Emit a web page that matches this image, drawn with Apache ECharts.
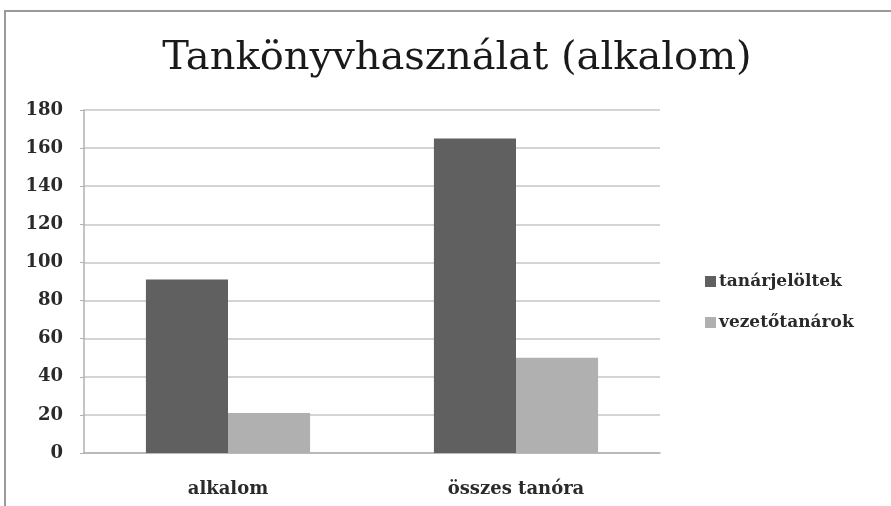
<!DOCTYPE html>
<html><head><meta charset="utf-8">
<script src="https://cdn.jsdelivr.net/npm/echarts@6/dist/echarts.min.js"></script>
<style>html,body{margin:0;padding:0;background:#fff}#c{width:891px;height:506px}</style>
</head><body><div id="c"></div>
<script>
const categories = ['alkalom', 'összes tanóra'];
const seriesNames = ['tanárjelöltek', 'vezetőtanárok'];
const tanarjeloltek = [91, 165];
const vezetotanarok = [21, 50];
const yTicks = {min: 0, max: 180, interval: 20};

const serif = '"DejaVu Serif", "Liberation Serif", serif';
const chart = echarts.init(document.getElementById('c'));
chart.setOption({
  animation: false,
  backgroundColor: '#fff',
  graphic: [{
    type: 'polyline', shape: {points: [[5, 506], [5, 11], [891, 11]]},
    style: {stroke: '#9a9a9a', lineWidth: 2, fill: null}
  }],
  title: {
    text: 'Tankönyvhasználat (alkalom)', left: 452, top: 34, textAlign: 'center',
    textStyle: {fontFamily: serif, fontSize: 40, fontWeight: 'normal', color: '#1a1a1a'}
  },
  legend: {
    orient: 'vertical', left: 700, top: 268, itemGap: 24, itemWidth: 11, itemHeight: 11,
    icon: 'rect',
    textStyle: {fontFamily: serif, fontSize: 17, fontWeight: 'bold', color: '#2a2a2a', padding: [0, 0, 0, -2]},
    data: seriesNames
  },
  grid: {left: 84, right: 231, top: 110, bottom: 53},
  xAxis: {
    type: 'category', data: categories,
    axisLine: {lineStyle: {color: '#b0b0b0', width: 1.5}},
    axisTick: {show: false},
    axisLabel: {fontFamily: serif, fontSize: 18, fontWeight: 'bold', color: '#2a2a2a', margin: 27}
  },
  yAxis: {
    type: 'value', min: yTicks.min, max: yTicks.max, interval: yTicks.interval,
    axisLine: {show: true, lineStyle: {color: '#b0b0b0', width: 1.5}},
    axisTick: {show: true, length: 4, lineStyle: {color: '#b0b0b0'}},
    splitLine: {lineStyle: {color: '#c6c6c6', width: 1.5}},
    axisLabel: {fontFamily: serif, fontSize: 18, fontWeight: 'bold', color: '#2a2a2a', margin: 21}
  },
  series: [
    {name: seriesNames[0], type: 'bar', data: tanarjeloltek, barGap: '0%', barCategoryGap: '43%',
     itemStyle: {color: '#606060'}},
    {name: seriesNames[1], type: 'bar', data: vezetotanarok, barGap: '0%', barCategoryGap: '43%',
     itemStyle: {color: '#b0b0b0'}}
  ]
});
</script></body></html>
